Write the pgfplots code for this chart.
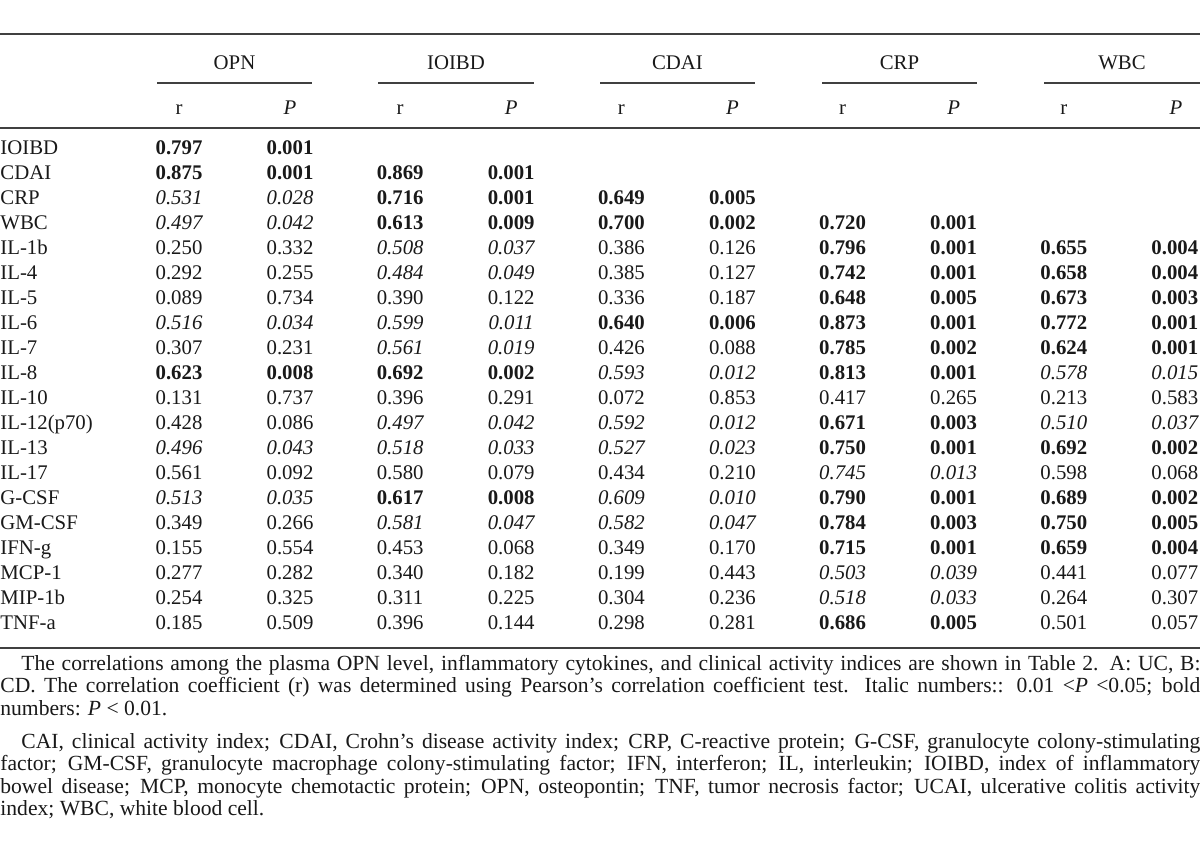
\documentclass[border=0pt]{standalone}
\usepackage{fontspec}
\setmainfont{Liberation Serif}
\usepackage{pgfplots}
\usepackage{pgfplotstable}
\pgfplotsset{compat=1.18}

\newcommand\cellfont{\fontsize{10.4}{12}\selectfont}
\newcommand\notefont{\fontsize{10.8}{12}\selectfont}

% one line per row and group: row (0 = IOIBD ... 19 = TNF-a), group (0 = OPN ... 4 = WBC), r, P
\pgfplotstableread{
row g r p
4 0 0.250 0.332
4 2 0.386 0.126
5 0 0.292 0.255
5 2 0.385 0.127
6 0 0.089 0.734
6 1 0.390 0.122
6 2 0.336 0.187
8 0 0.307 0.231
8 2 0.426 0.088
10 0 0.131 0.737
10 1 0.396 0.291
10 2 0.072 0.853
10 3 0.417 0.265
10 4 0.213 0.583
11 0 0.428 0.086
13 0 0.561 0.092
13 1 0.580 0.079
13 2 0.434 0.210
13 4 0.598 0.068
15 0 0.349 0.266
16 0 0.155 0.554
16 1 0.453 0.068
16 2 0.349 0.170
17 0 0.277 0.282
17 1 0.340 0.182
17 2 0.199 0.443
17 4 0.441 0.077
18 0 0.254 0.325
18 1 0.311 0.225
18 2 0.304 0.236
18 4 0.264 0.307
19 0 0.185 0.509
19 1 0.396 0.144
19 2 0.298 0.281
19 4 0.501 0.057
}\normcells

\pgfplotstableread{
row g r p
0 0 0.797 0.001
1 0 0.875 0.001
1 1 0.869 0.001
2 1 0.716 0.001
2 2 0.649 0.005
3 1 0.613 0.009
3 2 0.700 0.002
3 3 0.720 0.001
4 3 0.796 0.001
4 4 0.655 0.004
5 3 0.742 0.001
5 4 0.658 0.004
6 3 0.648 0.005
6 4 0.673 0.003
7 2 0.640 0.006
7 3 0.873 0.001
7 4 0.772 0.001
8 3 0.785 0.002
8 4 0.624 0.001
9 0 0.623 0.008
9 1 0.692 0.002
9 3 0.813 0.001
11 3 0.671 0.003
12 3 0.750 0.001
12 4 0.692 0.002
14 1 0.617 0.008
14 3 0.790 0.001
14 4 0.689 0.002
15 3 0.784 0.003
15 4 0.750 0.005
16 3 0.715 0.001
16 4 0.659 0.004
19 3 0.686 0.005
}\boldcells

\pgfplotstableread{
row g r p
2 0 0.531 0.028
3 0 0.497 0.042
4 1 0.508 0.037
5 1 0.484 0.049
7 0 0.516 0.034
7 1 0.599 0.011
8 1 0.561 0.019
9 2 0.593 0.012
9 4 0.578 0.015
11 1 0.497 0.042
11 2 0.592 0.012
11 4 0.510 0.037
12 0 0.496 0.043
12 1 0.518 0.033
12 2 0.527 0.023
13 3 0.745 0.013
14 0 0.513 0.035
14 2 0.609 0.010
15 1 0.581 0.047
15 2 0.582 0.047
17 3 0.503 0.039
18 3 0.518 0.033
}\italcells

\pgfplotstableread{
row name
0 IOIBD
1 CDAI
2 CRP
3 WBC
4 IL-1b
5 IL-4
6 IL-5
7 IL-6
8 IL-7
9 IL-8
10 IL-10
11 IL-12(p70)
12 IL-13
13 IL-17
14 G-CSF
15 GM-CSF
16 IFN-g
17 MCP-1
18 MIP-1b
19 TNF-a
}\rowlabels

% text written at each data point, from point meta
\pgfplotsset{
  txt/.style 2 args={scatter, only marks, mark=*, mark size=0pt,
    mark options={draw=none, fill=none},
    point meta=explicit symbolic,
    scatter/@pre marker code/.code={%
      \node[anchor=#1, inner sep=0pt, text=black!90, font=#2] at (0,0) {\pgfplotspointmeta};},
    scatter/@post marker code/.code={}},
}

\begin{document}
\begin{tikzpicture}
\begin{axis}[
    scale only axis,
    width=600pt, height=429pt,
    xmin=0, xmax=1200, ymin=0, ymax=858,
    y dir=reverse,
    hide axis, clip=false,
]
% rules
\draw[black!75, line width=1.1pt] (axis cs:0,34) -- (axis cs:1200,34);
\draw[black!75, line width=0.75pt] (axis cs:0,128) -- (axis cs:1200,128);
\draw[black!75, line width=1.1pt] (axis cs:0,648) -- (axis cs:1200,648);
\draw[black!75, line width=0.75pt] (axis cs:157,83) -- (axis cs:312,83);
\draw[black!75, line width=0.75pt] (axis cs:378,83) -- (axis cs:534,83);
\draw[black!75, line width=0.75pt] (axis cs:600,83) -- (axis cs:755,83);
\draw[black!75, line width=0.75pt] (axis cs:822,83) -- (axis cs:977,83);
\draw[black!75, line width=0.75pt] (axis cs:1044,83) -- (axis cs:1200,83);

% header
\begin{scope}[every node/.style={anchor=base, inner sep=0pt, font=\cellfont, text=black!90}]
\node at (axis cs:234.5,69) {OPN};
\node at (axis cs:456,69) {IOIBD};
\node at (axis cs:677.5,69) {CDAI};
\node at (axis cs:899.5,69) {CRP};
\node at (axis cs:1122,69) {WBC};
\node at (axis cs:179,114) {r};
\node at (axis cs:400.2,114) {r};
\node at (axis cs:621.4,114) {r};
\node at (axis cs:842.6,114) {r};
\node at (axis cs:1063.8,114) {r};
\node at (axis cs:290,114) {\textit{P}};
\node at (axis cs:511.2,114) {\textit{P}};
\node at (axis cs:732.4,114) {\textit{P}};
\node at (axis cs:953.6,114) {\textit{P}};
\node at (axis cs:1176,114) {\textit{P}};
\end{scope}

% row names
\addplot[txt={base west}{\cellfont}] table[x expr=0, y expr={154+25*\thisrow{row}}, meta=name] {\rowlabels};

% r and P values
\addplot[txt={base}{\cellfont}] table[x expr={179+221.2*\thisrow{g}}, y expr={154+25*\thisrow{row}}, meta=r] {\normcells};
\addplot[txt={base}{\cellfont}] table[x expr={290+221.2*\thisrow{g}}, y expr={154+25*\thisrow{row}}, meta=p] {\normcells};
\addplot[txt={base}{\cellfont\bfseries}] table[x expr={179+221.2*\thisrow{g}}, y expr={154+25*\thisrow{row}}, meta=r] {\boldcells};
\addplot[txt={base}{\cellfont\bfseries}] table[x expr={290+221.2*\thisrow{g}}, y expr={154+25*\thisrow{row}}, meta=p] {\boldcells};
\addplot[txt={base}{\cellfont\itshape}] table[x expr={179+221.2*\thisrow{g}}, y expr={154+25*\thisrow{row}}, meta=r] {\italcells};
\addplot[txt={base}{\cellfont\itshape}] table[x expr={290+221.2*\thisrow{g}}, y expr={154+25*\thisrow{row}}, meta=p] {\italcells};

% footnotes
\begin{scope}[every node/.style={anchor=base west, inner sep=0pt, font=\notefont, text=black!90}]
\node at (axis cs:21,670) {\makebox[589.5pt][s]{The correlations among the plasma OPN level, inflammatory cytokines, and clinical activity indices are shown in Table 2. A: UC, B:}};
\node at (axis cs:0,692.5) {\makebox[600pt][s]{CD. The correlation coefficient (r) was determined using Pearson’s correlation coefficient test. Italic numbers:: 0.01 <\textit{P} <0.05; bold}};
\node at (axis cs:0,715) {numbers: \textit{P} < 0.01.};
\node at (axis cs:21,748) {\makebox[589.5pt][s]{CAI, clinical activity index; CDAI, Crohn’s disease activity index; CRP, C-reactive protein; G-CSF, granulocyte colony-stimulating}};
\node at (axis cs:0,770.5) {\makebox[600pt][s]{factor; GM-CSF, granulocyte macrophage colony-stimulating factor; IFN, interferon; IL, interleukin; IOIBD, index of inflammatory}};
\node at (axis cs:0,793) {\makebox[600pt][s]{bowel disease; MCP, monocyte chemotactic protein; OPN, osteopontin; TNF, tumor necrosis factor; UCAI, ulcerative colitis activity}};
\node at (axis cs:0,815.5) {index; WBC, white blood cell.};
\end{scope}
\end{axis}
\pgfresetboundingbox
\path (current axis.south west) rectangle (current axis.north east);
\end{tikzpicture}
\end{document}
